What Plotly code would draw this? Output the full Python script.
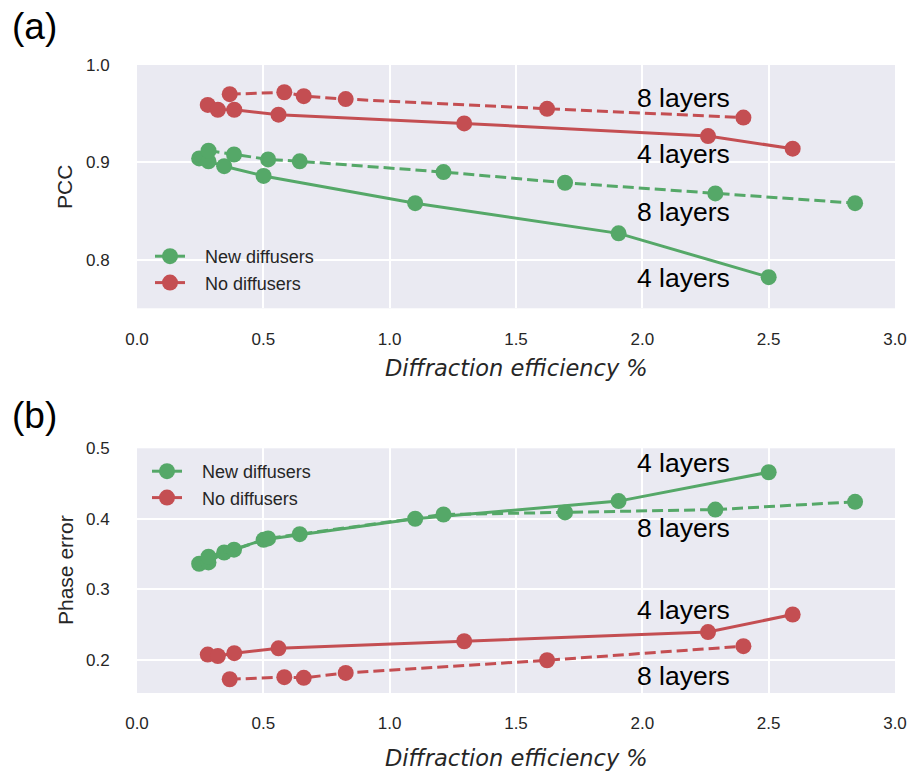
import plotly.graph_objects as go

# ---------------- data ----------------
# x: diffraction efficiency (%)
green4_x = [0.246, 0.283, 0.345, 0.501, 1.101, 1.906, 2.500]
green8_x = [0.283, 0.384, 0.519, 0.644, 1.213, 1.694, 2.289, 2.842]
red4_x = [0.280, 0.320, 0.385, 0.560, 1.295, 2.260, 2.595]
red8_x = [0.367, 0.583, 0.660, 0.826, 1.623, 2.400]

# (a) PCC
green4_pcc = [0.904, 0.901, 0.896, 0.886, 0.858, 0.827, 0.782]
green8_pcc = [0.912, 0.908, 0.903, 0.901, 0.890, 0.879, 0.868, 0.858]
red4_pcc = [0.959, 0.954, 0.954, 0.949, 0.940, 0.927, 0.914]
red8_pcc = [0.970, 0.972, 0.968, 0.965, 0.955, 0.946]

# (b) Phase error
green4_pe = [0.336, 0.338, 0.352, 0.370, 0.400, 0.425, 0.466]
green8_pe = [0.346, 0.356, 0.372, 0.378, 0.406, 0.409, 0.413, 0.424]
red4_pe = [0.207, 0.205, 0.209, 0.216, 0.226, 0.239, 0.264]
red8_pe = [0.172, 0.175, 0.174, 0.181, 0.199, 0.219]

x_ticks = [0.0, 0.5, 1.0, 1.5, 2.0, 2.5, 3.0]
pcc_ticks = [0.8, 0.9, 1.0]
pe_ticks = [0.2, 0.3, 0.4, 0.5]

legend_names = ["New diffusers", "No diffusers"]
layer_labels_a = [("8 layers", 0.966), ("4 layers", 0.909), ("8 layers", 0.849), ("4 layers", 0.7815)]
layer_labels_b = [("4 layers", 0.479), ("8 layers", 0.387), ("4 layers", 0.271), ("8 layers", 0.177)]
label_x = 2.163

# ---------------- style ----------------
GREEN = "#55A868"
RED = "#C44E52"
BG = "#EAEAF2"
TXT = "#262626"
FONT = "Liberation Sans, Arial, sans-serif"
PAD = "\u00a0" * 3

fig = go.Figure()


def add(x, y, color, dash, xa, ya, name, show, legend):
    fig.add_trace(go.Scatter(
        x=x, y=y, mode="lines+markers", xaxis=xa, yaxis=ya,
        line=dict(color=color, width=3, dash=dash),
        marker=dict(color=color, size=16, line=dict(width=0)),
        name=PAD + name, showlegend=show, legend=legend,
    ))


add(green4_x, green4_pcc, GREEN, "solid", "x", "y", legend_names[0], True, "legend")
add(red4_x, red4_pcc, RED, "solid", "x", "y", legend_names[1], True, "legend")
add(green8_x, green8_pcc, GREEN, "11px,5px", "x", "y", legend_names[0], False, "legend")
add(red8_x, red8_pcc, RED, "11px,5px", "x", "y", legend_names[1], False, "legend")

add(green4_x, green4_pe, GREEN, "solid", "x2", "y2", legend_names[0], True, "legend2")
add(red4_x, red4_pe, RED, "solid", "x2", "y2", legend_names[1], True, "legend2")
add(green8_x, green8_pe, GREEN, "11px,5px", "x2", "y2", legend_names[0], False, "legend2")
add(red8_x, red8_pe, RED, "11px,5px", "x2", "y2", legend_names[1], False, "legend2")

axis_common = dict(
    showgrid=True, gridcolor="white", gridwidth=1.8, zeroline=False,
    showline=False, ticks="outside", tickcolor="rgba(0,0,0,0)",
    tickfont=dict(family=FONT, size=17, color=TXT), automargin=False,
)

# page body margin is removed below, so reference pixel coordinates map 1:1
W, H = 915, 771
L, T = 137, 65
R = W - 895
B = H - 693
ph = H - T - B
pw = W - L - R


def py(p):
    return (H - B - p) / ph


def px(p):
    return (p - L) / pw


fig.update_layout(
    width=W, height=H,
    margin=dict(l=L, r=R, t=T, b=B),
    paper_bgcolor="white", plot_bgcolor=BG,
    font=dict(family=FONT, color=TXT),
    xaxis=dict(domain=[0, 1], anchor="y", range=[0.0, 3.0], tickvals=x_ticks,
               ticktext=[f"{v:.1f}" for v in x_ticks], ticklen=15, **axis_common),
    yaxis=dict(domain=[py(308.3), 1], anchor="x", range=[0.75, 1.0], tickvals=pcc_ticks,
               ticktext=[f"{v:.1f}" for v in pcc_ticks], ticklen=23, **axis_common),
    xaxis2=dict(domain=[0, 1], anchor="y2", range=[0.0, 3.0], tickvals=x_ticks,
                ticktext=[f"{v:.1f}" for v in x_ticks], ticklen=15, **axis_common),
    yaxis2=dict(domain=[0, py(448.3)], anchor="x2", range=[0.1525, 0.5], tickvals=pe_ticks,
                ticktext=[f"{v:.1f}" for v in pe_ticks], ticklen=23, **axis_common),
    legend=dict(x=px(150), y=py(238), xanchor="left", yanchor="top",
                bgcolor="rgba(0,0,0,0)", font=dict(family=FONT, size=18, color=TXT),
                tracegroupgap=0, itemsizing="trace"),
    legend2=dict(x=px(147), y=py(453), xanchor="left", yanchor="top",
                 bgcolor="rgba(0,0,0,0)", font=dict(family=FONT, size=18, color=TXT),
                 tracegroupgap=0, itemsizing="trace"),
)

ann = []
for t, yv in layer_labels_a:
    ann.append(dict(x=label_x, y=yv, xref="x", yref="y", text=t, showarrow=False,
                    font=dict(family=FONT, size=26.5, color="black"), xanchor="center", yanchor="middle"))
for t, yv in layer_labels_b:
    ann.append(dict(x=label_x, y=yv, xref="x2", yref="y2", text=t, showarrow=False,
                    font=dict(family=FONT, size=26.5, color="black"), xanchor="center", yanchor="middle"))

ann += [
    dict(x=px(34), y=py(27), xref="paper", yref="paper", text="(a)", showarrow=False,
         font=dict(family=FONT, size=37, color="black"), xanchor="center", yanchor="middle"),
    dict(x=px(34), y=py(415), xref="paper", yref="paper", text="(b)", showarrow=False,
         font=dict(family=FONT, size=37, color="black"), xanchor="center", yanchor="middle"),
    dict(x=px(65), y=py(187), xref="paper", yref="paper", text="PCC", textangle=-90, showarrow=False,
         font=dict(family=FONT, size=21, color=TXT), xanchor="center", yanchor="middle"),
    dict(x=px(65), y=py(570), xref="paper", yref="paper", text="Phase error", textangle=-90, showarrow=False,
         font=dict(family=FONT, size=21, color=TXT), xanchor="center", yanchor="middle"),
    dict(x=0.5, y=py(367.5), xref="paper", yref="paper", text="<i>Diffraction efficiency %</i>", showarrow=False,
         font=dict(family="DejaVu Sans, sans-serif", size=22.5, color=TXT), xanchor="center", yanchor="middle"),
    dict(x=0.5, y=py(758), xref="paper", yref="paper", text="<i>Diffraction efficiency %</i>", showarrow=False,
         font=dict(family="DejaVu Sans, sans-serif", size=22.5, color=TXT), xanchor="center", yanchor="middle"),
]
fig.update_layout(annotations=ann)

fig.write_html("out.html", config={"displayModeBar": False},
               post_script="document.body.style.margin='0';document.body.style.overflow='hidden';")
